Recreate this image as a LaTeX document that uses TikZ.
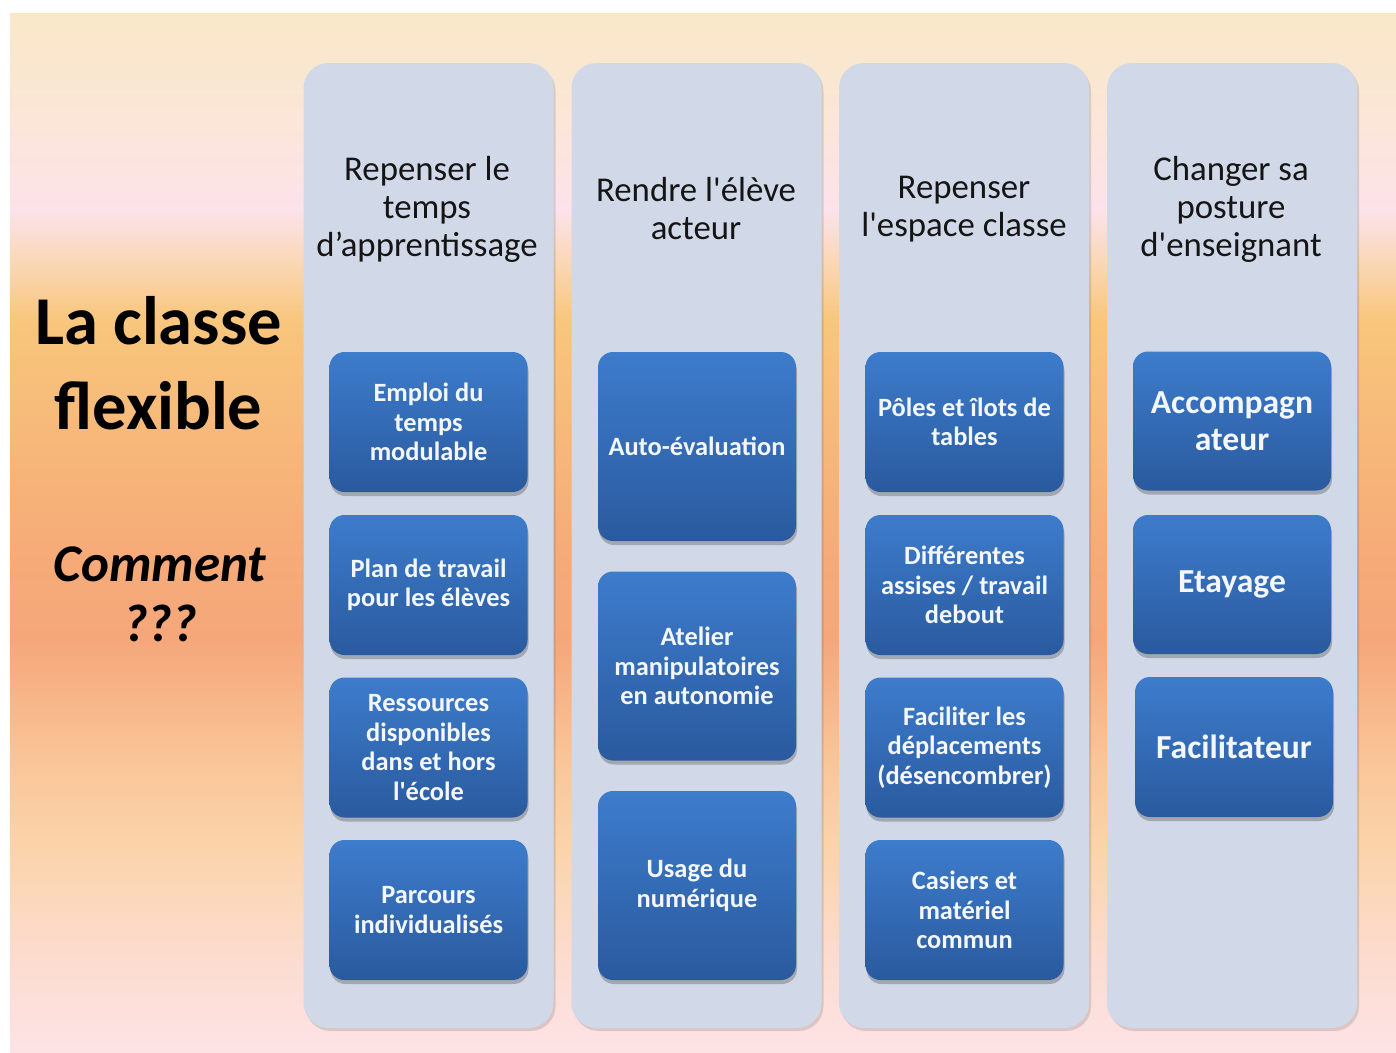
\documentclass[tikz,border=0pt]{standalone}
\usepackage{fontspec}
\setmainfont{Carlito}
\newfontfamily\carl{Carlito}
\usetikzlibrary{shadows}
\definecolor{colfill}{HTML}{D1D9E8}
\definecolor{boxtop}{HTML}{3D7CCC}
\definecolor{boxbot}{HTML}{2A5A9E}
\definecolor{boxtext}{HTML}{F3F7FC}
\definecolor{headtext}{HTML}{151515}
\definecolor{bgA}{HTML}{FDE3E6}
\definecolor{bgB}{HTML}{FCDCD0}
\definecolor{bgC}{HTML}{FBD4AC}
\definecolor{bgD}{HTML}{F9C598}
\definecolor{bgE}{HTML}{F5A77A}
\definecolor{bgF}{HTML}{F6AA78}
\definecolor{bgG}{HTML}{F7BA7A}
\definecolor{bgH}{HTML}{F8C67C}
\definecolor{bgI}{HTML}{FAD8B8}
\definecolor{bgJ}{HTML}{FCE2EA}
\definecolor{bgK}{HTML}{FBE6D8}
\definecolor{bgL}{HTML}{F9E8C8}
\pgfdeclareverticalshading{bgshade}{100bp}{%
color(0bp)=(bgA);color(25bp)=(bgA);color(29.4bp)=(bgB);color(34.7bp)=(bgC);
color(39.1bp)=(bgD);color(44.8bp)=(bgE);color(48.7bp)=(bgF);color(55.4bp)=(bgG);
color(60.2bp)=(bgH);color(63.1bp)=(bgI);color(65.5bp)=(bgJ);color(69.9bp)=(bgK);
color(75bp)=(bgL);color(100bp)=(bgL)}
\tikzset{
  column/.style={fill=colfill, draw=none, rounded corners=25pt,
    minimum width=250pt, minimum height=965pt, inner sep=0pt,
    drop shadow={shadow xshift=2pt, shadow yshift=-3pt, opacity=0.22, fill=black!60}},
  header/.style={text=headtext, align=center, inner sep=0pt,
    font=\carl\fontsize{34.8}{38}\selectfont},
  bluebox/.style={top color=boxtop, bottom color=boxbot, draw=none,
    rounded corners=15pt, minimum width=198pt, inner sep=0pt,
    text=boxtext, align=center, font=\carl\bfseries\fontsize{26.4}{29.5}\selectfont,
    drop shadow={shadow xshift=1pt, shadow yshift=-4pt, opacity=0.35, fill=black!70}},
  bigtext/.style={font=\carl\bfseries\fontsize{33.6}{37}\selectfont},
  rowA/.style={minimum height=140pt},
  rowB/.style={minimum height=189pt},
  title/.style={text=black, align=center, inner sep=0pt}
}
\begin{document}
\begin{tikzpicture}[x=1pt, y=-1pt]
\useasboundingbox (0,0) rectangle (1396,1052);
\fill[white] (0,0) rectangle (1396,1052);
\shade[shading=bgshade] (10,13) rectangle (1396,1052);

% titles
\node[title, font=\carl\bfseries\fontsize{68.5}{85}\selectfont] (t1) at (158.5,363) {La classe\\flexible};
\node[title, font=\carl\bfseries\itshape\fontsize{53}{60}\selectfont] (t2) at (160,594) {Comment\\???};

% columns
\node[column] (c1) at (428.5,545.5) {};
\node[column] (c2) at (696.5,545.5) {};
\node[column] (c3) at (964,545.5) {};
\node[column] (c4) at (1232,545.5) {};

% headers
\node[header] (h1) at (427,209) {Repenser le\\temps\\d’apprentissage};
\node[header] (h2) at (696,209) {Rendre l'élève\\acteur};
\node[header] (h3) at (964,209) {Repenser\\l'espace classe};
\node[header] (h4) at (1231,209) {Changer sa\\posture\\d'enseignant};

% column 1
\node[bluebox, rowA] (b11) at (428.5,422) {Emploi du\\temps\\modulable};
\node[bluebox, rowA] (b12) at (428.5,585) {Plan de travail\\pour les élèves};
\node[bluebox, rowA] (b13) at (428.5,747.5) {Ressources\\disponibles\\dans et hors\\l'école};
\node[bluebox, rowA] (b14) at (428.5,910) {Parcours\\individualisés};

% column 2
\node[bluebox, rowB] (b21) at (697,446.5) {Auto-évaluation};
\node[bluebox, rowB] (b22) at (697,666) {Atelier\\manipulatoires\\en autonomie};
\node[bluebox, rowB] (b23) at (697,885.5) {Usage du\\numérique};

% column 3
\node[bluebox, rowA] (b31) at (964.5,422) {Pôles et îlots de\\tables};
\node[bluebox, rowA] (b32) at (964.5,585) {Différentes\\assises / travail\\debout};
\node[bluebox, rowA] (b33) at (964.5,747.5) {Faciliter les\\déplacements\\(désencombrer)};
\node[bluebox, rowA] (b34) at (964.5,910) {Casiers et\\matériel\\commun};

% column 4
\node[bluebox, bigtext, minimum height=139pt] (b41) at (1232,421) {Accompagn\\ateur};
\node[bluebox, bigtext, minimum height=139pt] (b42) at (1232,584.5) {Etayage};
\node[bluebox, bigtext, minimum height=140pt] (b43) at (1234,747) {Facilitateur};
\end{tikzpicture}
\end{document}
